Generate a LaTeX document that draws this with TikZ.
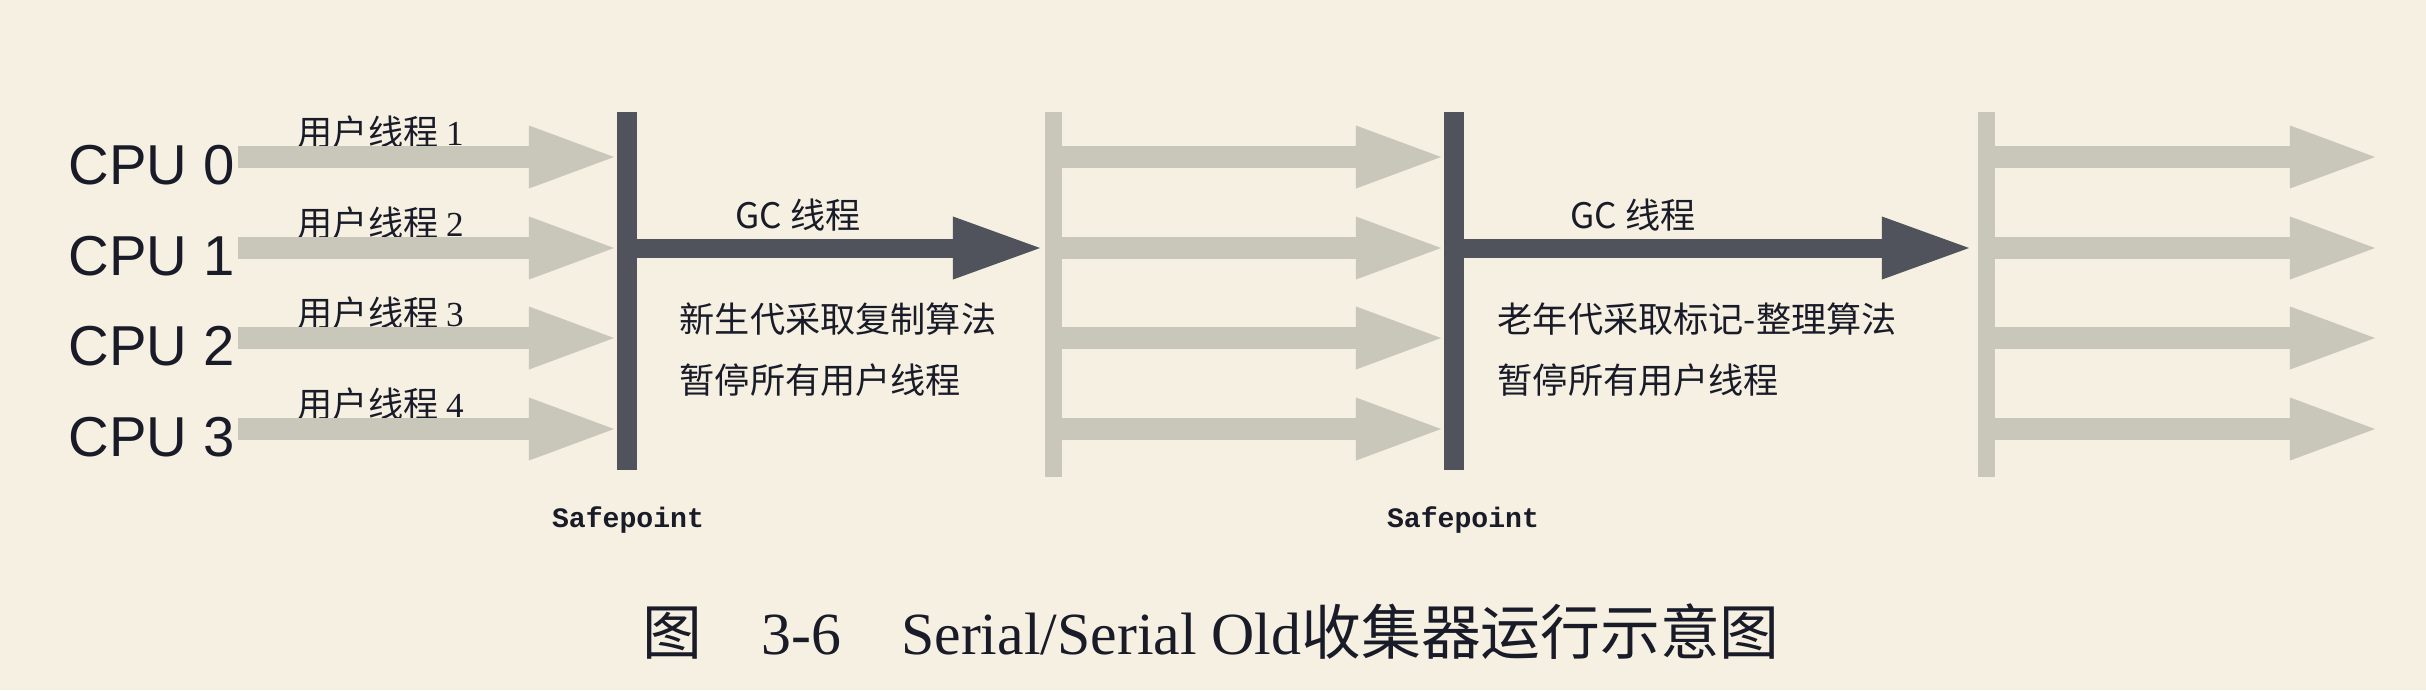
\documentclass[tikz,border=0pt]{standalone}
\usepackage{fontspec}
\setmainfont{Liberation Serif}
\newfontfamily\cpufont{Liberation Sans}
\newfontfamily\cjk{Noto Sans CJK SC}
\newfontfamily\spfont{Liberation Mono}
\usetikzlibrary{arrows.meta, calc, positioning}
\definecolor{bgclr}   {RGB}{245,240,225}
\definecolor{darkclr} {RGB}{80,82,92}
\definecolor{lightclr}{RGB}{201,199,186}
\definecolor{txtclr}  {RGB}{25,27,40}

\begin{document}
\begin{tikzpicture}[
    x=0.01cm, y=-0.01cm,
    text=txtclr,
    cpu/.style     ={anchor=west, inner sep=0pt,
                     font=\cpufont\fontsize{16pt}{18pt}\selectfont},
    thr/.style     ={anchor=west, inner sep=0pt,
                     font=\cjk\fontsize{10pt}{12pt}\selectfont},
    note/.style    ={thr},
    gclbl/.style   ={inner sep=0pt, font=\cjk\fontsize{10pt}{12pt}\selectfont},
    sp/.style      ={inner sep=0pt, font=\spfont\bfseries\fontsize{8pt}{10pt}\selectfont},
    captxt/.style  ={inner sep=0pt, font=\fontsize{17pt}{20pt}\selectfont},
    darkbar/.style ={draw=darkclr, line width=0.2cm},
    lightbar/.style={draw=lightclr, line width=0.17cm},
    usr/.style     ={draw=lightclr, line width=0.22cm,
                     -{Triangle[length=0.85cm, width=0.63cm, line width=0pt]}},
    gc/.style      ={draw=darkclr, line width=0.19cm,
                     -{Triangle[length=0.87cm, width=0.63cm, line width=0pt]}},
]

% =============== Background / frame ===============
\fill[bgclr] (0,0) rectangle (2426,690);
\useasboundingbox (0,0) rectangle (2426,690);

% =============== Safepoint bars ===============
\coordinate (sp1t) at (627,112);  \coordinate (sp1b) at (627,470);
\coordinate (rs1t) at (1053,112); \coordinate (rs1b) at (1053,477);
\coordinate (sp2t) at (1454,112); \coordinate (sp2b) at (1454,470);
\coordinate (rs2t) at (1986,112); \coordinate (rs2b) at (1986,477);

% =============== CPU rows: user threads ===============
\foreach \n/\y/\k in {0/157/1, 1/248/2, 2/338/3, 3/429/4}{%
  \node[cpu] (cpu\n) at (68,\y+8) {CPU \n};
  \node[thr] (thr\n) at (297,\y-25) {用户线程~{\rmfamily\k}};
  \coordinate (u\n) at (238,\y);  \coordinate (v\n) at (614,\y);
  \coordinate (a\n) at (1060,\y); \coordinate (b\n) at (1441,\y);
  \coordinate (c\n) at (1993,\y); \coordinate (d\n) at (2375,\y);
  \draw[usr] (u\n) -- (v\n);
  \draw[usr] (a\n) -- (b\n);
  \draw[usr] (c\n) -- (d\n);
}

\draw[lightbar] (rs1t) -- (rs1b);
\draw[lightbar] (rs2t) -- (rs2b);
\draw[darkbar]  (sp1t) -- (sp1b);
\draw[darkbar]  (sp2t) -- (sp2b);

% =============== GC threads ===============
\coordinate (gc1e) at (1040,248);
\coordinate (gc2e) at (1969,248);
\draw[gc] (sp1t |- gc1e) -- (gc1e);
\draw[gc] (sp2t |- gc2e) -- (gc2e);

\node[gclbl] (gc1) at (798,215)  {GC~线程};
\node[gclbl] (gc2) at (1633,215) {GC~线程};

\node[note] (young) at (679,319)  {新生代采取复制算法};
\node[note] (stop1) at (679,380)  {暂停所有用户线程};
\node[note] (old)   at (1497,319) {老年代采取标记-整理算法};
\node[note] (stop2) at (1497,380) {暂停所有用户线程};

\node[sp] (spl1) at (628,520)  {Safepoint};
\node[sp] (spl2) at (1463,520) {Safepoint};

% =============== Caption ===============
\node[captxt] (ttl) at (1211,632)
  {{\cjk 图}\quad 3-6\quad Serial/Serial Old{\cjk 收集器运行示意图}};

\end{tikzpicture}
\end{document}
